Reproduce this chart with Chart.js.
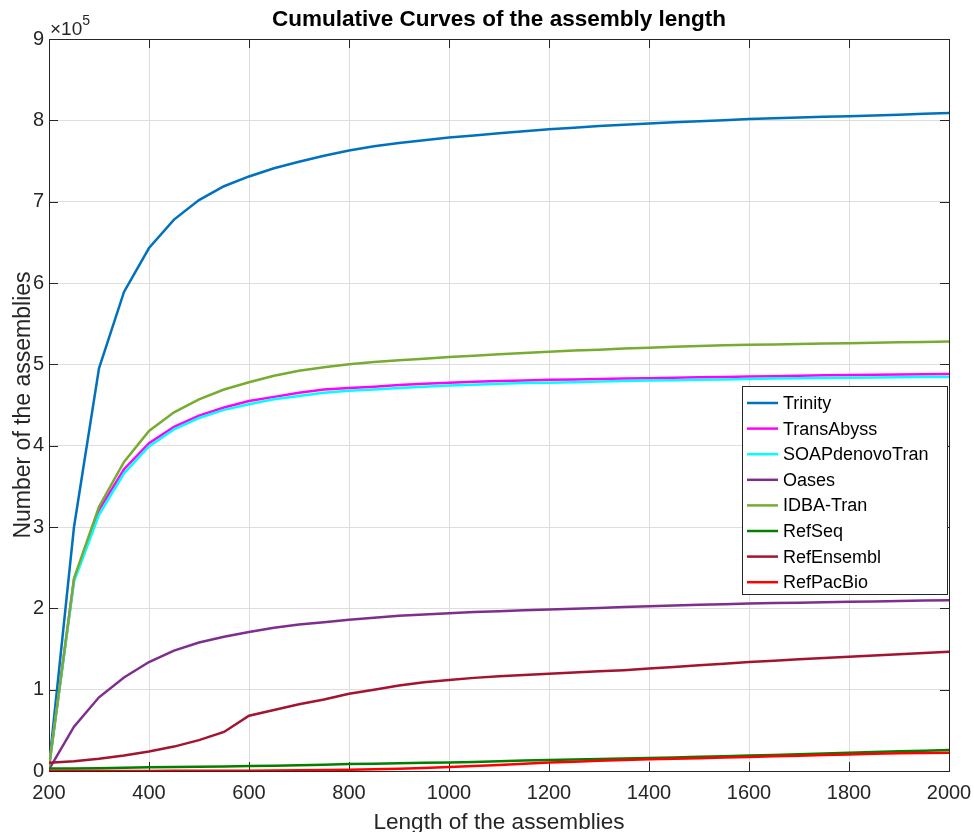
<!DOCTYPE html>
<html>
<head>
<meta charset="utf-8">
<script src="https://cdn.jsdelivr.net/npm/chart.js@4/dist/chart.umd.min.js"></script>
<style>
html,body{margin:0;padding:0;background:#fff;}
#c{display:block;}
</style>
</head>
<body>
<canvas id="c" width="974" height="832"></canvas>
<script>
const lengths = [200,250,300,350,400,450,500,550,600,650,700,750,800,850,900,950,1000,1050,1100,1150,1200,1250,1300,1350,1400,1450,1500,1550,1600,1650,1700,1750,1800,1850,1900,1950,2000];

const trinity = [6000,300000,495000,589000,643000,678000,702000,719000,731000,741000,749000,756500,763000,768000,772000,775500,779000,781500,784000,786500,789000,791000,793000,794500,796000,797500,799000,800000,801500,802500,803500,804500,805000,806000,807000,808000,809000];
const transAbyss = [5000,235000,321000,371000,403000,423000,437000,447000,455000,460000,465000,469000,471000,472500,474500,476000,477500,478500,479500,480000,481000,481500,482000,482500,483000,483500,484000,484500,485000,485500,486000,486500,487000,487200,487500,487800,488000];
const soapDenovoTran = [5000,233000,315000,366000,399000,420000,434000,444000,451000,457000,461000,465000,467500,469000,471000,472500,474000,475000,476000,477000,477500,478000,479000,479500,480000,480500,481000,481500,482000,482500,483000,483300,483600,483900,484100,484300,484500];
const oases = [2000,54500,90600,115000,134000,148000,158000,165000,171000,176000,180000,183000,186000,188500,191000,192500,194000,195500,196500,197500,198500,199500,200500,201500,202500,203500,204500,205000,206000,206500,207000,207500,208000,208500,209000,209500,210000];
const idbaTran = [5000,237000,325000,380000,418000,441000,457000,469000,478000,486000,492000,496500,500000,503000,505000,507000,509000,510500,512500,514000,515500,517000,518000,519500,520500,521500,522500,523500,524000,524500,525000,525500,526000,526500,527000,527500,528000];
const refSeq = [3000,3200,3500,4000,4500,4800,5200,5600,6000,6600,7200,7800,8500,9000,9500,10000,10500,11200,12000,12800,13500,14100,14700,15300,16000,16700,17500,18200,19000,19800,20700,21600,22500,23400,24200,25000,25800];
const refEnsembl = [10000,12000,15000,19000,24000,30000,38000,48000,68000,75000,82000,88000,95000,100000,105000,109000,112000,114500,116500,118000,119500,121000,122500,124000,126000,128000,130000,132000,134000,135500,137500,139000,140500,142000,143500,145000,146500];
const refPacBio = [0,0,0,100,100,200,200,300,400,600,800,1100,1500,2000,2800,3800,5000,6000,7500,9000,10500,11500,12500,13500,14500,15200,15800,16500,17200,18000,18800,19600,20400,21100,21800,22200,22500];

const seriesNames = ["Trinity","TransAbyss","SOAPdenovoTran","Oases","IDBA-Tran","RefSeq","RefEnsembl","RefPacBio"];
const seriesValues = [trinity,transAbyss,soapDenovoTran,oases,idbaTran,refSeq,refEnsembl,refPacBio];
const seriesColors = ["#0072BD","#FF00FF","#00FFFF","#7E2F8E","#77AC30","#008000","#A2142F","#FF0000"];

const xTicks = [200,400,600,800,1000,1200,1400,1600,1800,2000];
const yTicks = [0,1,2,3,4,5,6,7,8,9];
const yExponent = 5;

const FONT = "'Liberation Sans', Arial, Helvetica, sans-serif";
const AX = '#262626';
const N = seriesNames.length;

const datasets = seriesNames.map((name, i) => ({
  label: name,
  data: lengths.map((x, j) => ({x: x, y: seriesValues[i][j]})),
  borderColor: seriesColors[i],
  backgroundColor: seriesColors[i],
  borderWidth: 2.5,
  pointRadius: 0,
  tension: 0,
  fill: false,
  order: N - 1 - i
}));

const frame = {
  id: 'frame',
  beforeDatasetsDraw(chart) {
    const {ctx, chartArea: a, scales} = chart;
    ctx.save();
    ctx.strokeStyle = AX;
    ctx.lineWidth = 1;
    ctx.beginPath();
    const tl = 9;
    xTicks.forEach(v => {
      const px = Math.round(scales.x.getPixelForValue(v)) + 0.5;
      ctx.moveTo(px, a.bottom); ctx.lineTo(px, a.bottom - tl);
      ctx.moveTo(px, a.top); ctx.lineTo(px, a.top + tl);
    });
    yTicks.forEach(v => {
      const py = Math.round(scales.y.getPixelForValue(v * Math.pow(10, yExponent))) + 0.5;
      ctx.moveTo(a.left, py); ctx.lineTo(a.left + tl, py);
      ctx.moveTo(a.right, py); ctx.lineTo(a.right - tl, py);
    });
    ctx.stroke();
    ctx.strokeRect(Math.round(a.left) + 0.5, Math.round(a.top) + 0.5, Math.round(a.right - a.left), Math.round(a.bottom - a.top));
    ctx.restore();
  },
  afterDraw(chart) {
    const {ctx, chartArea: a} = chart;
    ctx.save();
    // title
    ctx.fillStyle = '#000';
    ctx.font = "bold 22.5px " + FONT;
    ctx.textAlign = 'center';
    ctx.textBaseline = 'alphabetic';
    ctx.fillText('Cumulative Curves of the assembly length', (a.left + a.right) / 2, 26);
    // exponent
    ctx.fillStyle = AX;
    ctx.textAlign = 'left';
    ctx.font = "19px " + FONT;
    ctx.fillText('\u00D710', a.left + 1, 35);
    const w = ctx.measureText('\u00D710').width;
    ctx.font = "14px " + FONT;
    ctx.fillText(String(yExponent), a.left + 1 + w, 25);
    // x axis title
    ctx.font = "22.6px " + FONT;
    ctx.textAlign = 'center';
    ctx.fillText('Length of the assemblies', (a.left + a.right) / 2, 829);
    // y axis title
    ctx.font = "23px " + FONT;
    ctx.translate(30, (a.top + a.bottom) / 2);
    ctx.rotate(-Math.PI / 2);
    ctx.fillText('Number of the assemblies', 0, 0);
    ctx.restore();

    // legend
    ctx.save();
    const lx = 742, ly = 386, lw = 205, lh = 208;
    ctx.fillStyle = '#fff';
    ctx.fillRect(lx, ly, lw, lh);
    ctx.strokeStyle = AX;
    ctx.lineWidth = 1;
    ctx.strokeRect(lx + 0.5, ly + 0.5, lw, lh);
    ctx.font = "18px " + FONT;
    ctx.textAlign = 'left';
    ctx.textBaseline = 'middle';
    seriesNames.forEach((name, i) => {
      const y = 403 + i * 25.6;
      ctx.strokeStyle = seriesColors[i];
      ctx.lineWidth = 2.5;
      ctx.beginPath();
      ctx.moveTo(747, y); ctx.lineTo(778, y);
      ctx.stroke();
      ctx.fillStyle = '#000';
      ctx.fillText(name, 783, y + 1);
    });
    ctx.restore();
  }
};

new Chart(document.getElementById('c'), {
  type: 'line',
  data: { datasets },
  options: {
    responsive: false,
    animation: false,
    devicePixelRatio: 1,
    layout: { padding: { top: 39, right: 25, left: 0, bottom: 0 } },
    plugins: { legend: { display: false }, title: { display: false }, tooltip: { enabled: false } },
    scales: {
      x: {
        type: 'linear', min: 200, max: 2000,
        afterBuildTicks(s) { s.ticks = xTicks.map(v => ({value: v})); },
        ticks: { font: { family: FONT, size: 20 }, color: AX, padding: 10, maxRotation: 0, autoSkip: false, callback: v => String(v) },
        grid: { color: '#dedede', drawTicks: false, lineWidth: 1 },
        border: { display: false },
        afterFit(s) { s.height = 61; s.paddingLeft = 0; s.paddingRight = 0; }
      },
      y: {
        type: 'linear', min: 0, max: 900000,
        afterBuildTicks(s) { s.ticks = yTicks.map(v => ({value: v * Math.pow(10, yExponent)})); },
        ticks: { font: { family: FONT, size: 20 }, color: AX, padding: 5, callback: v => String(Math.round(v / Math.pow(10, yExponent))) },
        grid: { color: '#dedede', drawTicks: false, lineWidth: 1 },
        border: { display: false },
        afterFit(s) { s.width = 49; s.paddingTop = 0; s.paddingBottom = 0; }
      }
    }
  },
  plugins: [frame]
});
</script>
</body>
</html>
